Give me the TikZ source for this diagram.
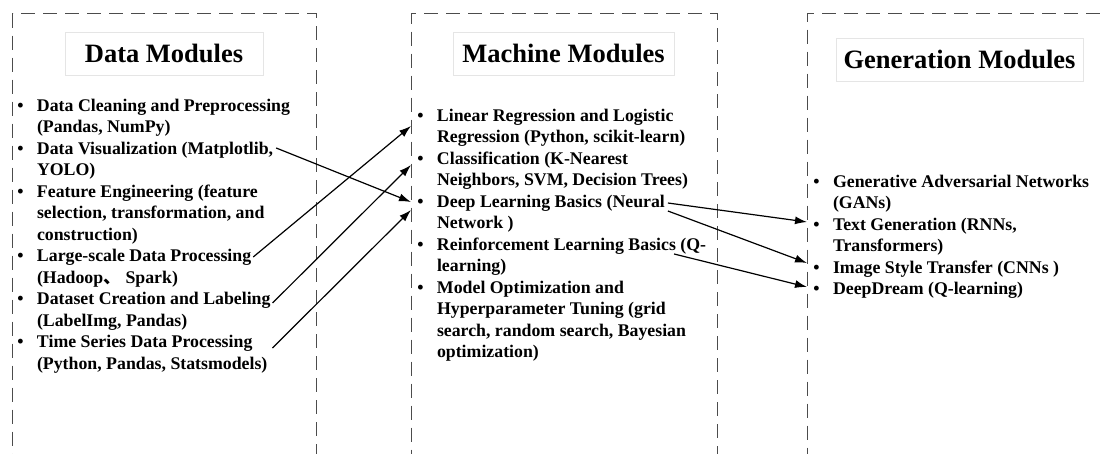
\documentclass[tikz,border=0pt]{standalone}
\usepackage{fontspec}
\setmainfont{Liberation Serif}
\newfontfamily\cjk{Noto Sans CJK SC}
\usetikzlibrary{arrows.meta, positioning, calc}
\newcommand{\bul}{\strut\llap{\textbullet\hspace{13.5pt}}}
\tikzset{
  panel/.style={draw=black!70, line width=1.4pt, dash pattern=on 14pt off 8pt,
    anchor=north west, minimum height=470pt, inner sep=0pt},
  heading/.style={draw=black!10, line width=0.5pt, minimum height=43pt,
    font=\fontsize{26.5}{32}\selectfont\bfseries, inner sep=0pt},
  item/.style={anchor=north west, align=left, inner sep=0pt, outer sep=0pt,
    font=\fontsize{17.8}{21.5}\selectfont\bfseries},
  link/.style={-{Latex[length=12pt,width=8pt]}, line width=1.2pt},
}
\begin{document}
\begin{tikzpicture}[x=1pt, y=-1pt]
\useasboundingbox (0,0) rectangle (1105,454);

% dashed panels, open at the bottom
\node[panel, minimum width=304pt] (dbox) at (12,13) {};
\node[panel, minimum width=306pt] (mbox) at (411,13) {};
\node[panel, minimum width=340pt] (gbox) at (807,13) {};

\node[heading, minimum width=198pt] (dtitle) at (164,53.5) {Data Modules};
\node[heading, minimum width=221pt] (mtitle) at (563.5,53.5) {Machine Modules};
\node[heading, minimum width=247pt] (gtitle) at (959.5,59.5) {Generation Modules};

% data modules
\node[item] (dclean) at (37,96) {\bul Data Cleaning and Preprocessing\\(Pandas, NumPy)\strut};
\node[item, below right=0pt of dclean.south west] (dvis) {\bul Data Visualization (Matplotlib,\\YOLO)\strut};
\node[item, below right=0pt of dvis.south west] (feat) {\bul Feature Engineering (feature\\selection, transformation, and\\construction)\strut};
\node[item, below right=0pt of feat.south west] (large) {\bul Large-scale Data Processing\\(Hadoop{\cjk 、} Spark)\strut};
\node[item, below right=0pt of large.south west] (dset) {\bul Dataset Creation and Labeling\\(LabelImg, Pandas)\strut};
\node[item, below right=0pt of dset.south west] (tser) {\bul Time Series Data Processing\\(Python, Pandas, Statsmodels)\strut};

% machine modules
\node[item] (lin) at (437,106) {\bul Linear Regression and Logistic\\Regression (Python, scikit-learn)\strut};
\node[item, below right=0pt of lin.south west] (cls) {\bul Classification (K-Nearest\\Neighbors, SVM, Decision Trees)\strut};
\node[item, below right=0pt of cls.south west] (deep) {\bul Deep Learning Basics (Neural\\Network\ )\strut};
\node[item, below right=0pt of deep.south west] (reinf) {\bul Reinforcement Learning Basics (Q-\\learning)\strut};
\node[item, below right=0pt of reinf.south west] (mopt) {\bul Model Optimization and\\Hyperparameter Tuning (grid\\search, random search, Bayesian\\optimization)\strut};

% generation modules
\node[item] (gan) at (833,172) {\bul Generative Adversarial Networks\\(GANs)\strut};
\node[item, below right=0pt of gan.south west] (tgen) {\bul Text Generation (RNNs,\\Transformers)\strut};
\node[item, below right=0pt of tgen.south west] (img) {\bul Image Style Transfer (CNNs\ )\strut};
\node[item, below right=0pt of img.south west] (ddream) {\bul DeepDream (Q-learning)\strut};

\draw[link] ($(dvis.north east)+(3,9)$) -- ($(deep.north -| mbox.west)+(0,10)$);
\draw[link] ($(large.north east)+(2,10.5)$) -- ($(lin.north -| mbox.west)+(0,20)$);
\draw[link] ($(dset.north east)+(2,13.5)$) -- ($(cls.north -| mbox.west)+(0,16)$);
\draw[link] ($(tser.north east)+(5,15.5)$) -- ($(deep.north -| mbox.west)+(0,18)$);

\draw[link] ($(deep.north east)+(3,11)$) -- ($(tgen.north -| gbox.west)+(0,7)$);
\draw[link] ($(deep.north east)+(3,19)$) -- ($(img.north -| gbox.west)+(0,5)$);
\draw[link] ($(reinf.north east)+(-32,19)$) -- ($(ddream.north -| gbox.west)+(0,7.5)$);

\end{tikzpicture}
\end{document}
